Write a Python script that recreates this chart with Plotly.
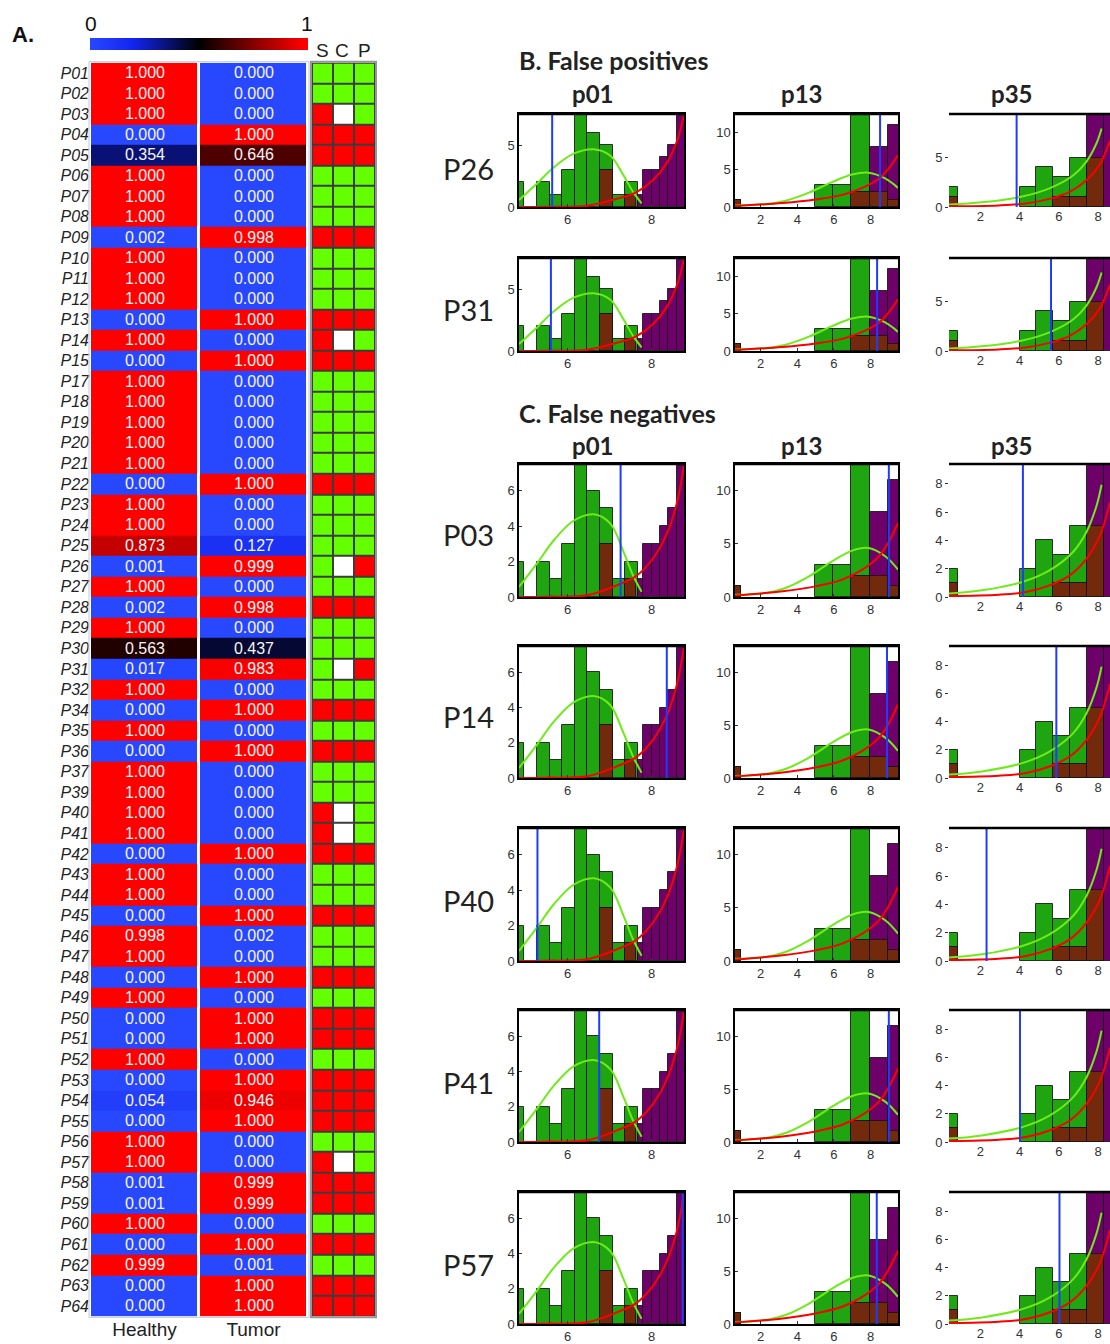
import plotly.graph_objects as go

W, H = 1110, 1344
KY = 1344 / 1336  # small vertical correction so rows land where the reference has them

# ---------------- Panel A data ----------------
patients = ["P01", "P02", "P03", "P04", "P05", "P06", "P07", "P08", "P09", "P10",
            "P11", "P12", "P13", "P14", "P15", "P17", "P18", "P19", "P20", "P21",
            "P22", "P23", "P24", "P25", "P26", "P27", "P28", "P29", "P30", "P31",
            "P32", "P34", "P35", "P36", "P37", "P39", "P40", "P41", "P42", "P43",
            "P44", "P45", "P46", "P47", "P48", "P49", "P50", "P51", "P52", "P53",
            "P54", "P55", "P56", "P57", "P58", "P59", "P60", "P61", "P62", "P63", "P64"]
healthy = [1.000, 1.000, 1.000, 0.000, 0.354, 1.000, 1.000, 1.000, 0.002, 1.000,
           1.000, 1.000, 0.000, 1.000, 0.000, 1.000, 1.000, 1.000, 1.000, 1.000,
           0.000, 1.000, 1.000, 0.873, 0.001, 1.000, 0.002, 1.000, 0.563, 0.017,
           1.000, 0.000, 1.000, 0.000, 1.000, 1.000, 1.000, 1.000, 0.000, 1.000,
           1.000, 0.000, 0.998, 1.000, 0.000, 1.000, 0.000, 0.000, 1.000, 0.000,
           0.054, 0.000, 1.000, 1.000, 0.001, 0.001, 1.000, 0.000, 0.999, 0.000, 0.000]
tumor = [0.000, 0.000, 0.000, 1.000, 0.646, 0.000, 0.000, 0.000, 0.998, 0.000,
         0.000, 0.000, 1.000, 0.000, 1.000, 0.000, 0.000, 0.000, 0.000, 0.000,
         1.000, 0.000, 0.000, 0.127, 0.999, 0.000, 0.998, 0.000, 0.437, 0.983,
         0.000, 1.000, 0.000, 1.000, 0.000, 0.000, 0.000, 0.000, 1.000, 0.000,
         0.000, 1.000, 0.002, 0.000, 1.000, 0.000, 1.000, 1.000, 0.000, 1.000,
         0.946, 1.000, 0.000, 0.000, 0.999, 0.999, 0.000, 1.000, 0.001, 1.000, 1.000]
# G = healthy call (green), R = tumor call (red), W = no call (white)
S_calls = list("GGRRRGGGRGGGRRR" "GGGGGRGGGGGRGGGG" "RGRG" "GRRRGGRGGRGRRGRRRGRRRGRGRR")
C_calls = list("GGWRRGGGRGGGRWR" "GGGGGRGGGWGRGGWG" "RGRG" "GWWRGGRGGRGRRGRRRGWRRGRGRR")
P_calls = list("GGGRRGGGRGGGRGR" "GGGGGRGGGRGRGGRG" "RGRG" "GGGRGGRGGRGRRGRRRGGRRGRGRR")
scp_labels = ["S", "C", "P"]

# ---------------- Panels B / C data ----------------
p01_green_left = [4.67, 5.27, 5.57, 5.87, 6.17, 6.47, 6.77, 7.07, 7.37]
p01_green_width = [0.30, 0.30, 0.30, 0.30, 0.30, 0.30, 0.30, 0.30, 0.30]
p01_green_count = [2, 2, 1, 3, 8, 6, 5, 1, 2]
p01_purple_left = [6.77, 7.67, 7.80, 8.00, 8.20, 8.40, 8.60]
p01_purple_width = [0.30, 0.13, 0.20, 0.20, 0.20, 0.20, 0.20]
p01_purple_count = [3, 1, 3, 3, 4, 5, 8]
p01_brown_left = [6.77, 7.37]
p01_brown_width = [0.30, 0.25]
p01_brown_count = [3, 1]
p01_green_curve_x = [4.84, 5.27, 5.67, 6.14, 6.62, 7.01, 7.33, 7.56, 7.76]
p01_green_curve_y = [0.57, 1.9, 3.2, 4.3, 4.66, 4.15, 2.55, 1.2, 0.3]
p01_red_curve_x = [4.84, 5.5, 6.46, 7.17, 7.64, 8.04, 8.35, 8.59, 8.77]
p01_red_curve_y = [0.0, 0.02, 0.1, 0.66, 1.2, 2.2, 3.5, 5.2, 7.4]

p13_green_left = [-0.05, 4.95, 5.95, 6.95, 7.95, 8.95]
p13_green_width = [1.0, 1.0, 1.0, 1.0, 1.0, 1.0]
p13_green_count = [1, 3, 3, 13, 2, 1]
p13_purple_left = [-0.05, 6.95, 7.95, 8.95]
p13_purple_width = [1.0, 1.0, 1.0, 1.0]
p13_purple_count = [1, 2, 8, 11]
p13_brown_left = [-0.05, 6.95, 7.95, 8.95]
p13_brown_width = [1.0, 1.0, 1.0, 1.0]
p13_brown_count = [1, 2, 2, 1]
p13_green_curve_x = [0.6, 2.27, 3.36, 4.64, 5.9, 7.0, 7.9, 8.82, 9.5]
p13_green_curve_y = [0.2, 0.38, 0.85, 1.94, 3.35, 4.36, 4.6, 3.8, 2.57]
p13_red_curve_x = [0.6, 3.2, 5.0, 6.45, 7.55, 8.45, 9.0, 9.5]
p13_red_curve_y = [0.15, 0.53, 1.0, 1.63, 2.57, 3.8, 5.2, 6.96]

p35_green_left = [0.0, 4.0, 4.86, 5.72, 6.58, 7.44]
p35_green_width = [0.86, 0.86, 0.86, 0.86, 0.86, 0.86]
p35_green_count = [2, 2, 4, 3, 5, 5]
p35_purple_left = [0.0, 5.72, 6.58, 7.44, 8.30]
p35_purple_width = [0.86, 0.86, 0.86, 0.86, 0.86]
p35_purple_count = [1, 1, 1, 12, 12]
p35_brown_left = [0.0, 5.72, 6.58, 7.44]
p35_brown_width = [0.86, 0.86, 0.86, 0.86]
p35_brown_count = [1, 1, 1, 5]
p35_green_curve_x = [0.4, 2.09, 4.14, 5.52, 6.72, 7.4, 7.92, 8.17]
p35_green_curve_y = [0.24, 0.47, 1.06, 1.88, 3.18, 4.59, 6.47, 7.93]
p35_red_curve_x = [0.4, 2.94, 4.32, 5.52, 6.55, 7.4, 8.09, 8.6]
p35_red_curve_y = [0.07, 0.16, 0.35, 0.82, 1.53, 2.7, 4.35, 6.7]

features = ["p01", "p13", "p35"]
case_rows = ["P26", "P31", "P03", "P14", "P40", "P41", "P57"]
blue_p01 = [5.63, 5.60, 7.26, 8.36, 5.28, 6.75, 8.74]
blue_p13 = [8.52, 8.36, 9.00, 8.90, None, 9.00, 8.34]
blue_p35 = [3.85, 5.60, 4.17, 5.87, 2.32, 4.02, 6.03]

hist = {
    "p01": dict(g=(p01_green_left, p01_green_width, p01_green_count),
                p=(p01_purple_left, p01_purple_width, p01_purple_count),
                b=(p01_brown_left, p01_brown_width, p01_brown_count),
                gc=(p01_green_curve_x, p01_green_curve_y),
                rc=(p01_red_curve_x, p01_red_curve_y),
                blue=blue_p01, xr=[4.84, 8.77], yr=[0, 7.5],
                xt=[6, 8], dtB=5, dtC=2),
    "p13": dict(g=(p13_green_left, p13_green_width, p13_green_count),
                p=(p13_purple_left, p13_purple_width, p13_purple_count),
                b=(p13_brown_left, p13_brown_width, p13_brown_count),
                gc=(p13_green_curve_x, p13_green_curve_y),
                rc=(p13_red_curve_x, p13_red_curve_y),
                blue=blue_p13, xr=[0.6, 9.5], yr=[0, 12.5],
                xt=[2, 4, 6, 8], dtB=5, dtC=5),
    "p35": dict(g=(p35_green_left, p35_green_width, p35_green_count),
                p=(p35_purple_left, p35_purple_width, p35_purple_count),
                b=(p35_brown_left, p35_brown_width, p35_brown_count),
                gc=(p35_green_curve_x, p35_green_curve_y),
                rc=(p35_red_curve_x, p35_red_curve_y),
                blue=blue_p35, xr=[0.41, 8.6], yr=[0, 9.4],
                xt=[2, 4, 6, 8], dtB=5, dtC=2),
}

# ---------------- layout helpers (screen pixel -> paper) ----------------
def px(x):
    return x / W

def py(y):
    return max(0.0, 1 - KY * y / H)

ROW_TOP, ROW_BOT = 62.7, 1316.3
SANS = "Liberation Sans, Arial"
CAL = "Lato, Open Sans"

fig = go.Figure()
layout = dict(width=W, height=H, margin=dict(l=0, r=0, t=0, b=0),
              paper_bgcolor="white", plot_bgcolor="white",
              showlegend=False, barmode="overlay", bargap=0)
annotations = []
shapes = []

# ---------------- Panel A heatmap ----------------
cscale = [[0.0, "rgb(40,72,255)"], [0.2, "rgb(18,36,238)"], [0.5, "rgb(0,0,0)"],
          [0.95, "rgb(238,0,0)"], [1.0, "rgb(255,0,0)"]]
z_ht = [[h, t] for h, t in zip(healthy, tumor)]
fig.add_trace(go.Heatmap(
    z=z_ht, x=["Healthy", "Tumor"], y=patients, xaxis="x", yaxis="y",
    zmin=0, zmax=1, colorscale=cscale, xgap=3, ygap=0,
    texttemplate="%{z:.3f}",
    textfont=dict(family=SANS, size=16, color="rgb(245,245,245)"),
    showscale=True,
    colorbar=dict(orientation="h", x=px(90), xanchor="left", y=py(38), yanchor="top",
                  len=218, lenmode="pixels", thickness=12, thicknessmode="pixels",
                  showticklabels=False, ticks="", outlinewidth=0, xpad=0, ypad=0),
    hoverinfo="skip"))
layout["xaxis"] = dict(domain=[px(90), px(308)], showgrid=False, zeroline=False,
                       ticks="", tickfont=dict(family=SANS, size=19, color="#222"),
                       side="bottom")
layout["yaxis"] = dict(domain=[py(ROW_BOT), py(ROW_TOP)], autorange="reversed",
                       showgrid=False, zeroline=False, ticks="",
                       tickmode="array", tickvals=patients,
                       ticktext=[f"<i>{p}</i>" for p in patients],
                       tickfont=dict(family=SANS, size=16, color="#222"))

code = {"R": 0, "W": 1, "G": 2}
z_scp = [[code[s], code[c], code[p]] for s, c, p in zip(S_calls, C_calls, P_calls)]
scp_scale = [[0.0, "rgb(255,0,0)"], [0.33, "rgb(255,0,0)"], [0.33, "white"],
             [0.67, "white"], [0.67, "rgb(100,255,0)"], [1.0, "rgb(100,255,0)"]]
fig.add_trace(go.Heatmap(
    z=z_scp, x=scp_labels, y=patients, xaxis="x2", yaxis="y2",
    zmin=0, zmax=2, colorscale=scp_scale, showscale=False, xgap=2, ygap=2,
    hoverinfo="skip"))
layout["xaxis2"] = dict(domain=[px(312), px(375)], showgrid=False,
                        zeroline=False, showticklabels=False, ticks="")
layout["yaxis2"] = dict(domain=[py(ROW_BOT), py(ROW_TOP)], autorange="reversed",
                        showgrid=False, zeroline=False, showticklabels=False,
                        anchor="x2")
shapes.append(dict(type="rect", xref="paper", yref="paper", layer="below",
                   x0=px(312), x1=px(375), y0=py(ROW_BOT), y1=py(ROW_TOP),
                   fillcolor="rgb(60,60,60)", line=dict(width=0)))
shapes.append(dict(type="rect", xref="paper", yref="paper",
                   x0=px(311), x1=px(376), y0=py(ROW_BOT + 1), y1=py(ROW_TOP - 1),
                   line=dict(color="rgb(150,150,150)", width=2)))
shapes.append(dict(type="rect", xref="paper", yref="paper",
                   x0=px(89), x1=px(309), y0=py(ROW_BOT + 1), y1=py(ROW_TOP - 1),
                   line=dict(color="rgb(190,200,230)", width=1)))

for lab, lx in zip(scp_labels, [322, 342, 364]):
    annotations.append(dict(text=lab, x=px(lx), y=py(50), xanchor="center", yanchor="middle",
                            font=dict(family=SANS, size=19, color="#222")))
annotations += [
    dict(text="<b>A.</b>", x=px(10), y=py(35), xanchor="left", yanchor="middle",
         font=dict(family=SANS, size=22, color="#111")),
    dict(text="0", x=px(91), y=py(23), xanchor="center", yanchor="middle",
         font=dict(family=SANS, size=21, color="#111")),
    dict(text="1", x=px(307), y=py(23), xanchor="center", yanchor="middle",
         font=dict(family=SANS, size=21, color="#111")),
]

# ---------------- Panels B / C histograms ----------------
row_tops = [114, 258, 464, 646, 828, 1010, 1192]
row_bots = [207, 351, 597, 778, 961, 1142, 1324]
col_left = [519, 735, 949]
col_right = [684, 898, 1110]

GREEN_BAR = "rgb(30,165,15)"
PURPLE_BAR = "rgb(110,0,105)"
BROWN_BAR = "rgb(115,42,12)"
EDGE = dict(color="rgba(20,20,20,0.85)", width=1)
tickfont = dict(family=SANS, size=13, color="#333")

idx = 3
for r, rname in enumerate(case_rows):
    panelB = r < 2
    for c, feat in enumerate(features):
        d = hist[feat]
        xa, ya = f"x{idx}", f"y{idx}"
        for key, colr in (("g", GREEN_BAR), ("p", PURPLE_BAR), ("b", BROWN_BAR)):
            lefts, widths, counts = d[key]
            fig.add_trace(go.Bar(
                x=[l + w / 2 for l, w in zip(lefts, widths)], y=counts, width=widths,
                marker=dict(color=colr, line=EDGE), xaxis=xa, yaxis=ya,
                hoverinfo="skip"))
        fig.add_trace(go.Scatter(x=d["gc"][0], y=d["gc"][1], mode="lines",
                                 line=dict(color="rgb(110,235,25)", width=2, shape="spline"),
                                 xaxis=xa, yaxis=ya, hoverinfo="skip"))
        fig.add_trace(go.Scatter(x=d["rc"][0], y=d["rc"][1], mode="lines",
                                 line=dict(color="rgb(250,0,0)", width=2, shape="spline"),
                                 xaxis=xa, yaxis=ya, hoverinfo="skip"))
        bv = d["blue"][r]
        if bv is not None:
            fig.add_trace(go.Scatter(x=[bv, bv], y=d["yr"], mode="lines",
                                     line=dict(color="rgb(30,60,255)", width=2),
                                     xaxis=xa, yaxis=ya, hoverinfo="skip"))
        framed = feat != "p35"
        layout[f"xaxis{idx}"] = dict(
            domain=[px(col_left[c]), px(col_right[c])], range=d["xr"], anchor=ya,
            showgrid=False, zeroline=False, tickmode="array", tickvals=d["xt"],
            tickfont=tickfont,
            showline=framed, mirror=framed, linecolor="black", linewidth=1.5,
            ticks="inside" if framed else "", ticklen=3, tickcolor="#333")
        layout[f"yaxis{idx}"] = dict(
            domain=[py(row_bots[r]), py(row_tops[r])], range=d["yr"], anchor=xa,
            showgrid=False, zeroline=False, dtick=d["dtB"] if panelB else d["dtC"],
            tick0=0, tickfont=tickfont,
            showline=framed, mirror=framed, linecolor="black", linewidth=1.5,
            ticks="inside" if framed else "outside", ticklen=3, tickcolor="#333")
        shapes.append(dict(type="line", xref=f"{xa} domain", yref=f"{ya} domain",
                           x0=0, x1=1, y0=1, y1=1, line=dict(color="black", width=2.5)))
        idx += 1

row_label_y = [168, 310, 535, 717, 901, 1082, 1265]
for name, yy in zip(case_rows, row_label_y):
    annotations.append(dict(text=name, x=px(468), y=py(yy), xanchor="center", yanchor="middle",
                            font=dict(family=CAL, size=29, color="#222")))

annotations += [
    dict(text="<b>B. False positives</b>", x=px(517), y=py(60), xanchor="left", yanchor="middle",
         font=dict(family=CAL, size=25, color="#222")),
    dict(text="<b>C. False negatives</b>", x=px(517), y=py(413), xanchor="left", yanchor="middle",
         font=dict(family=CAL, size=25, color="#222")),
]
col_center = [592, 802, 1011]
for feat, cx in zip(features, col_center):
    for ty in (93, 445):
        annotations.append(dict(text=f"<b>{feat}</b>", x=px(cx), y=py(ty), xanchor="center",
                                yanchor="middle",
                                font=dict(family=CAL, size=24, color="#222")))

for a in annotations:
    a.setdefault("xref", "paper")
    a.setdefault("yref", "paper")
    a.setdefault("showarrow", False)
layout["annotations"] = annotations
layout["shapes"] = shapes
fig.update_layout(**layout)
fig.write_html("out.html", config={"displayModeBar": False},
               post_script="document.body.style.margin='0px';"
                           "document.body.style.overflow='hidden';")
